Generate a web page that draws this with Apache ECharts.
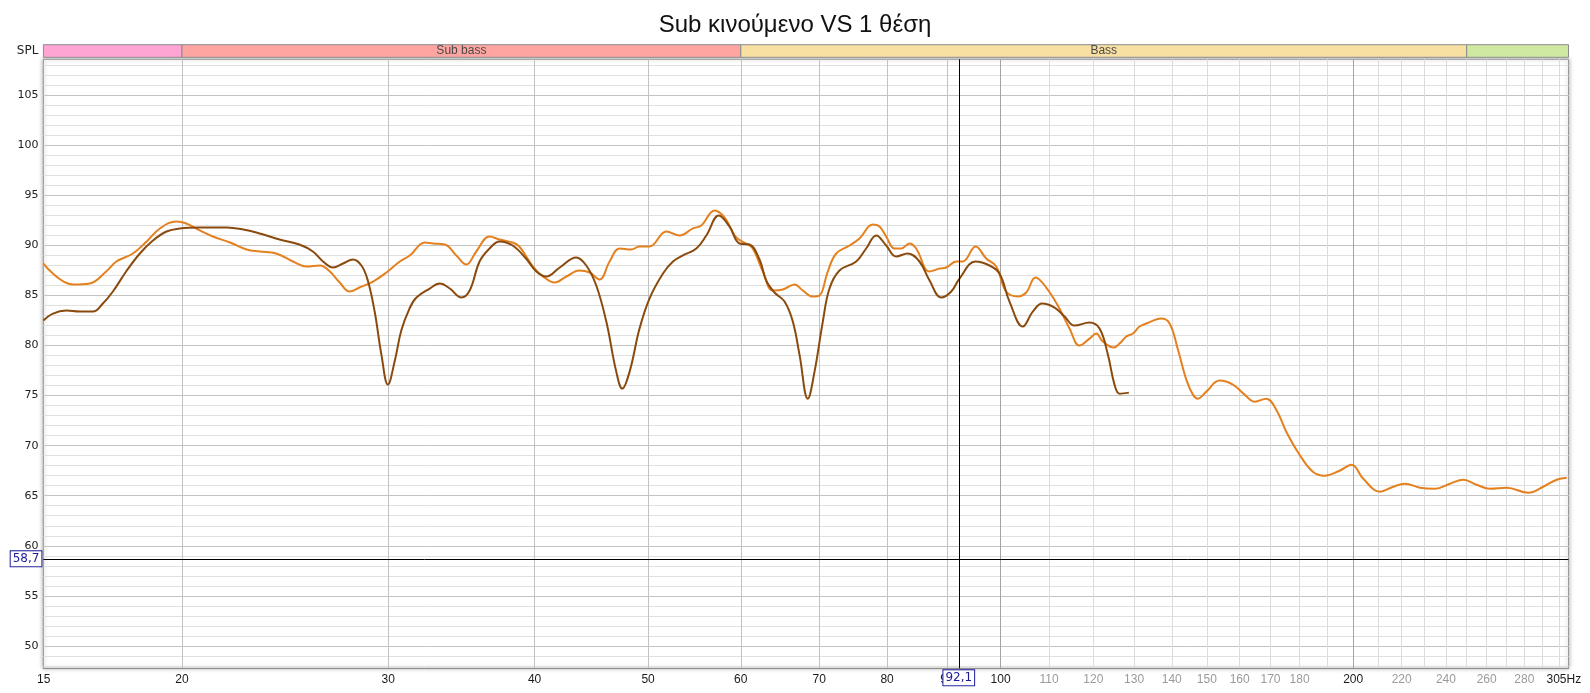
<!DOCTYPE html>
<html>
<head>
<meta charset="utf-8">
<script src="https://cdn.jsdelivr.net/npm/echarts@6/dist/echarts.min.js"></script>
<style>
html,body{margin:0;padding:0;background:#fff;}
#chart{width:1590px;height:693px;}
</style>
</head>
<body>
<div id="chart"></div>
<script>
// ---------------- DATA ----------------
const chartTitle = 'Sub κινούμενο VS 1 θέση';

const xMin = 15.23, xMax = 305.4;   // Hz, visible frequency range
const yMin = 47.76, yMax = 108.6;   // dB SPL, visible range

// Trace 1 (orange) – full range
const orangeFreq = [15.23,16.14,16.68,17.23,17.58,18.16,18.66,19.15,19.78,20.17,
  20.71,21.25,21.98,22.71,23.30,24.07,24.88,25.54,26.23,26.75,
  27.27,27.81,28.35,29.12,29.89,30.69,31.30,32.24,32.77,33.53,
  34.30,34.98,35.67,36.61,37.34,38.31,38.82,39.88,40.67,41.61,
  42.58,43.70,44.57,45.46,46.36,47.28,48.38,49.17,50.14,51.83,
  53.20,54.61,55.52,56.98,58.11,59.46,60.64,61.43,62.66,63.90,
  65.17,66.69,67.78,69.13,70.04,71.19,72.38,74.30,75.77,77.78,
  78.81,79.85,81.17,82.24,83.59,84.70,86.96,88.69,89.86,91.64,
  92.84,95.19,97.21,99.13,101.10,103.43,105.16,107.10,109.38,111.90,
  114.51,116.78,119.10,120.68,122.26,124.93,126.34,128.02,129.70,131.41,
  133.17,137.15,139.41,141.70,144.06,145.94,147.38,149.83,153.80,157.88,
  161.55,164.76,168.59,171.93,175.35,180.00,184.77,189.06,194.72,199.37,
  204.00,210.81,216.40,221.43,228.06,234.88,241.91,248.33,254.96,261.72,
  270.45,282.19,290.63,298.40,304.33];
const orangeSPL = [88.2,86.1,86.2,87.4,88.4,89.2,90.4,91.7,92.4,92.2,
  91.5,90.9,90.3,89.6,89.4,89.2,88.4,87.9,88.0,87.4,
  86.3,85.4,85.8,86.4,87.3,88.4,89.0,90.3,90.2,90.1,
  89.0,88.1,89.4,90.9,90.6,90.3,89.9,87.9,86.9,86.3,
  86.9,87.5,87.3,86.6,88.4,89.7,89.6,89.9,89.9,91.4,
  91.0,91.7,92.0,93.5,92.8,90.8,90.2,89.7,87.4,85.5,
  85.6,86.1,85.5,84.9,85.0,87.4,89.2,90.0,90.7,92.1,
  91.9,90.9,89.7,89.7,90.2,89.7,87.4,87.7,87.8,88.4,
  88.4,89.9,88.7,87.9,85.4,84.9,85.3,86.8,85.8,84.0,
  81.7,80.0,80.7,81.2,80.4,79.8,80.2,80.9,81.2,81.9,
  82.2,82.7,82.2,79.6,76.6,75.1,74.7,75.4,76.5,76.1,
  75.1,74.4,74.7,73.6,71.4,69.1,67.4,67.0,67.5,68.1,
  66.7,65.4,65.9,66.2,65.8,65.7,66.2,66.6,66.1,65.7,
  65.8,65.3,65.9,66.6,66.8];

// Trace 2 (brown) – ends near 129 Hz
const brownFreq = [15.23,15.52,15.93,16.35,16.79,17.12,17.46,17.92,18.41,18.89,
  19.40,19.91,20.71,21.83,22.56,23.30,24.23,25.19,25.87,26.39,
  26.91,27.45,27.99,28.46,28.82,29.21,29.60,29.98,30.38,30.78,
  31.28,31.71,32.55,33.20,33.86,34.64,35.21,35.90,36.61,37.34,
  38.31,39.33,40.14,40.94,42.03,43.41,44.28,45.16,46.06,46.97,
  47.53,48.22,49.17,50.14,51.49,52.51,53.55,54.98,56.07,57.46,
  58.68,59.85,61.04,62.25,63.07,64.11,65.39,66.46,67.34,68.45,
  69.36,70.50,71.43,72.85,75.28,76.77,78.30,79.85,81.44,83.31,
  85.25,86.96,88.98,90.75,92.24,95.19,97.84,99.78,101.76,104.46,
  106.53,108.52,111.18,113.39,115.64,119.10,121.47,123.47,125.10,126.34,
  128.68];
const brownSPL = [82.5,83.2,83.5,83.4,83.4,84.2,85.4,87.4,89.2,90.5,
  91.4,91.7,91.8,91.8,91.6,91.2,90.6,90.1,89.4,88.4,
  87.8,88.2,88.6,88.0,86.5,83.4,79.1,76.1,78.4,81.5,
  83.7,84.8,85.7,86.2,85.7,84.8,85.5,88.4,89.7,90.4,
  90.0,88.7,87.4,86.9,87.8,88.8,88.0,86.0,82.4,77.4,
  75.7,77.4,81.7,84.7,87.2,88.4,89.0,89.7,91.0,93.0,
  91.9,90.2,90.1,88.6,86.5,85.3,84.4,82.4,79.1,74.7,
  77.4,82.4,85.7,87.5,88.4,89.7,91.0,90.0,88.9,89.2,
  88.4,86.5,84.8,85.4,86.7,88.4,88.0,87.2,84.4,81.9,
  83.4,84.2,83.8,82.9,82.0,82.3,81.7,79.1,76.1,75.2,
  75.3];

// Axis ticks / grid lines
const xTickFreqs  = [15,20,30,40,50,60,70,80,90,100,110,120,130,140,150,160,170,180,200,220,240,260,280,305];
const xTickText   = ['15','20','30','40','50','60','70','80','90','100','110','120','130','140','150','160','170','180','200','220','240','260','280','305Hz'];
const xTickFaint  = ['110','120','130','140','150','160','170','180','220','240','260','280'];
const xMajorLines = [20,30,40,50,60,70,80,90];
const xDecadeLines = [100,200];
const xMinorLines = [110,120,130,140,150,160,170,180,190,210,220,230,240,250,260,270,280,290,300];
const yMajorTicks = [50,55,60,65,70,75,80,85,90,95,100,105];
const yMinorTicks = [48,49,50,51,52,53,54,55,56,57,58,59,60,61,62,63,64,65,66,67,68,69,70,71,72,73,74,75,76,77,78,79,80,81,82,83,84,85,86,87,88,89,90,91,92,93,94,95,96,97,98,99,100,101,102,103,104,105,106,107,108];
const yAxisName = 'SPL';

// Frequency bands shown above the plot
const bandEdges = [xMin, 20, 60, 250, xMax];
const bandNames = ['', 'Sub bass', 'Bass', ''];

// Cursor
const cursorFreq = 92.1;
const cursorSPL = 58.7;

// ---------------- STYLE ----------------
const bandColors = ['#FEA5D4', '#FEA5A1', '#F8DFA2', '#D0E9A0'];
const orangeColor = '#E5801E';
const brownColor = '#8A4A0E';
const narrowFont = '"Liberation Sans Narrow", "Liberation Sans", Arial, sans-serif';
const plainFont = '"DejaVu Sans", sans-serif';

// ---------------- BUILD ----------------
function clampX(f) { return Math.min(Math.max(f, xMin + 0.01), xMax - 0.05); }
const xLabelValues = xTickFreqs.map(clampX);
function xLabelFor(v) {
  let best = 0, bd = Infinity;
  xLabelValues.forEach((lv, i) => { const d = Math.abs(lv - v); if (d < bd) { bd = d; best = i; } });
  return xTickText[best];
}
function commaNum(v) { return String(v).replace('.', ','); }
function pairs(fs, vs) { return fs.map((f, i) => [f, vs[i]]); }

function logX(extra) {
  return Object.assign({
    type: 'log', logBase: 10, min: xMin, max: xMax, gridIndex: 0, position: 'bottom',
    axisLine: { show: false }, axisTick: { show: false }, axisLabel: { show: false },
    splitLine: { show: false }, minorTick: { show: false }, minorSplitLine: { show: false }
  }, extra);
}

const bandData = [];
for (let i = 0; i < bandNames.length; i++) {
  bandData.push([
    { name: bandNames[i], xAxis: bandEdges[i], itemStyle: { color: bandColors[i] } },
    { xAxis: bandEdges[i + 1] }
  ]);
}

const option = {
  animation: false,
  backgroundColor: '#fff',
  title: {
    text: chartTitle, left: 'center', top: 8,
    textStyle: { fontFamily: '"Liberation Sans", Arial, sans-serif', fontSize: 24, fontWeight: 'normal', color: '#111' }
  },
  grid: [
    { left: 43.4, right: 21.5, top: 59.3, bottom: 24.7, show: true, backgroundColor: '#fff',
      borderColor: '#9a9a9a', borderWidth: 1, shadowBlur: 4, shadowColor: 'rgba(0,0,0,0.3)',
      containLabel: false, outerBoundsMode: 'none' },
    { left: 43.4, right: 21.5, top: 44.7, height: 12.6, show: false, containLabel: false, outerBoundsMode: 'none' }
  ],
  xAxis: [
    logX({ axisTick: { show: false, customValues: xMinorLines }, splitLine: { show: true, lineStyle: { color: '#dcdcdc', width: 1 } } }),
    logX({ axisTick: { show: false, customValues: xMajorLines }, splitLine: { show: true, lineStyle: { color: '#c2c2c2', width: 1 } } }),
    logX({ axisTick: { show: false, customValues: xDecadeLines }, splitLine: { show: true, lineStyle: { color: '#a4a4a4', width: 1 } } }),
    logX({
      axisLine: { show: true, lineStyle: { color: '#8c8c8c', width: 1 } },
      axisTick: { show: false, customValues: xLabelValues },
      axisLabel: {
        show: true, customValues: xLabelValues, margin: 5,
        fontFamily: narrowFont, fontSize: 12,
        formatter: function (v) {
          const t = xLabelFor(v);
          if (t.indexOf('Hz') >= 0) return '{e|' + t + '}';
          return (xTickFaint.indexOf(t) >= 0 ? '{l|' : '{d|') + t + '}';
        },
        rich: {
          d: { color: '#1a1a1a', fontFamily: narrowFont, fontSize: 12 },
          l: { color: '#9a9a9a', fontFamily: narrowFont, fontSize: 12 },
          e: { color: '#1a1a1a', fontFamily: narrowFont, fontSize: 12, padding: [0, 8, 0, 0] }
        }
      }
    }),
    logX({ gridIndex: 1 })
  ],
  yAxis: [
    { type: 'value', gridIndex: 0, position: 'left', min: yMin, max: yMax,
      axisLine: { show: false }, axisTick: { show: false, customValues: yMinorTicks }, axisLabel: { show: false },
      splitLine: { show: true, lineStyle: { color: '#e0e0e0', width: 1 } } },
    { type: 'value', gridIndex: 0, position: 'left', min: yMin, max: yMax,
      axisLine: { show: false }, axisTick: { show: false, customValues: yMajorTicks },
      axisLabel: { show: true, customValues: yMajorTicks, margin: 5, color: '#222', fontFamily: plainFont, fontSize: 11 },
      splitLine: { show: true, lineStyle: { color: '#c4c4c4', width: 1 } },
      name: yAxisName, nameLocation: 'end', nameGap: 8.6,
      nameTextStyle: { color: '#222', fontFamily: plainFont, fontSize: 12, align: 'right', verticalAlign: 'middle', padding: [0, 5, 0, 0] } },
    { type: 'value', gridIndex: 1, min: 0, max: 1, show: false }
  ],
  series: [
    { type: 'line', name: '1 θέση', xAxisIndex: 3, yAxisIndex: 1,
      data: pairs(orangeFreq, orangeSPL), smooth: 0.4, symbol: 'none', showSymbol: false,
      lineStyle: { color: orangeColor, width: 2 }, itemStyle: { color: orangeColor }, z: 3, silent: true },
    { type: 'line', name: 'Sub κινούμενο', xAxisIndex: 3, yAxisIndex: 1,
      data: pairs(brownFreq, brownSPL), smooth: 0.4, symbol: 'none', showSymbol: false,
      lineStyle: { color: brownColor, width: 2 }, itemStyle: { color: brownColor }, z: 4, silent: true,
      markLine: {
        silent: true, symbol: ['none', 'none'], animation: false,
        lineStyle: { color: '#000', width: 1, type: 'solid' },
        emphasis: { disabled: true },
        label: {
          show: true, position: 'start', distance: 2,
          color: '#1c1c9c', backgroundColor: '#fff', borderColor: '#1c1c9c', borderWidth: 1,
          padding: [2, 2, 1, 2], fontFamily: plainFont, fontSize: 12
        },
        data: [
          { xAxis: cursorFreq, label: { formatter: commaNum(cursorFreq) } },
          { yAxis: cursorSPL, label: { formatter: commaNum(cursorSPL) } }
        ]
      } },
    { type: 'line', name: 'bands', xAxisIndex: 4, yAxisIndex: 2, data: [], silent: true,
      markArea: {
        silent: true,
        itemStyle: { borderColor: '#8c8c8c', borderWidth: 1 },
        label: { show: true, position: 'inside', color: '#4a4a4a', fontFamily: narrowFont, fontSize: 12 },
        emphasis: { disabled: true },
        data: bandData
      } }
  ]
};

const chart = echarts.init(document.getElementById('chart'), null, { renderer: 'canvas' });
chart.setOption(option);
</script>
</body>
</html>
